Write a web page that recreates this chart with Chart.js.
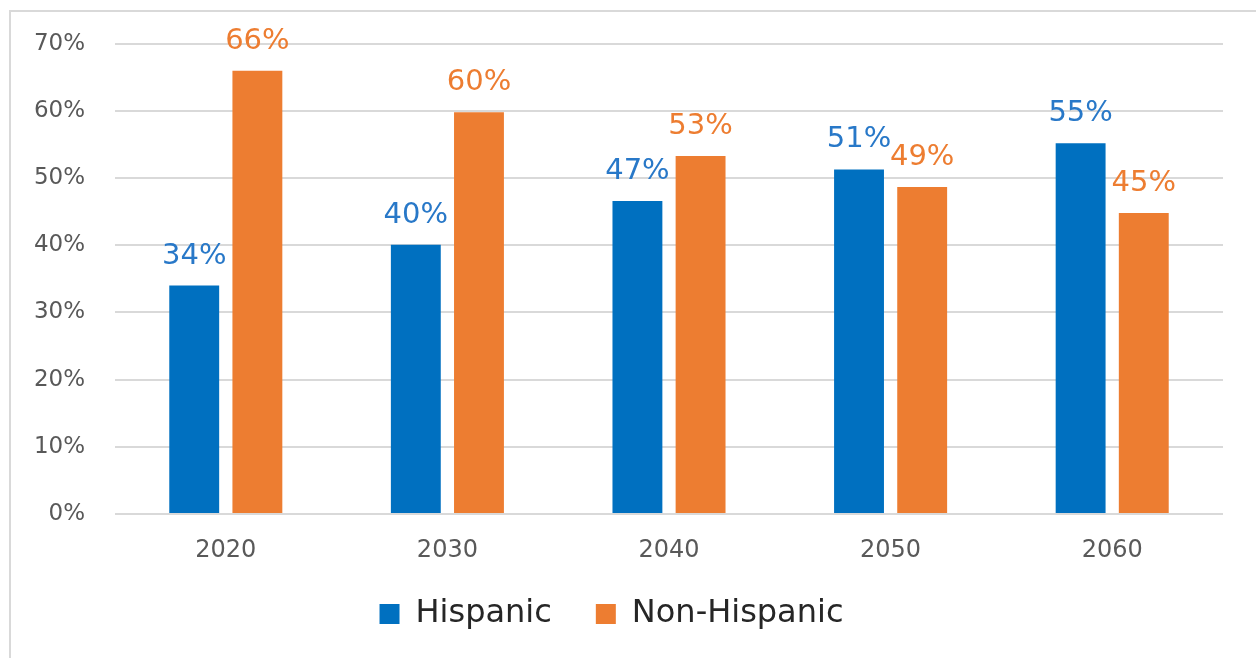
<!DOCTYPE html>
<html>
<head>
<meta charset="utf-8">
<script src="https://cdn.jsdelivr.net/npm/chart.js@4/dist/chart.umd.min.js"></script>
<style>
  html, body { margin: 0; padding: 0; background: #fff; overflow: hidden; }
  #wrap { position: absolute; left: 0; top: 0; width: 1256px; height: 658px; overflow: hidden; }
  #frame { position: absolute; left: 9px; top: 10px; width: 1300px; height: 700px;
           border-top: 2px solid #d9d9d9; border-left: 2px solid #d9d9d9; }
  #chart { position: absolute; left: 0; top: 0; }
</style>
</head>
<body>
<div id="wrap">
  <div id="frame"></div>
  <canvas id="chart" width="1277" height="700"></canvas>
</div>
<script>
// share of population by decade
const years = ['2020', '2030', '2040', '2050', '2060'];
const hispanic = [34.0, 40.1, 46.6, 51.3, 55.2];
const nonHispanic = [66.0, 59.8, 53.3, 48.7, 44.8];
const yTicks = [0, 10, 20, 30, 40, 50, 60, 70];

const BLUE = '#0070C0';
const ORANGE = '#ED7D31';
const FONT = "'DejaVu Sans', sans-serif";

// value labels above each bar
const barLabels = {
  id: 'barLabels',
  afterDatasetsDraw(chart) {
    const ctx = chart.ctx;
    ctx.save();
    ctx.font = `29px ${FONT}`;
    ctx.textAlign = 'center';
    ctx.textBaseline = 'alphabetic';
    chart.data.datasets.forEach((ds, i) => {
      const meta = chart.getDatasetMeta(i);
      ctx.fillStyle = ds.labelColor;
      meta.data.forEach((bar, j) => {
        ctx.fillText(Math.round(ds.data[j]) + '%', bar.x, bar.y - 22);
      });
    });
    ctx.restore();
  }
};

new Chart(document.getElementById('chart'), {
  type: 'bar',
  data: {
    labels: years,
    datasets: [
      { label: 'Hispanic', data: hispanic, backgroundColor: BLUE, labelColor: '#2878C8',
        categoryPercentage: 0.57, barPercentage: 0.79 },
      { label: 'Non-Hispanic', data: nonHispanic, backgroundColor: ORANGE, labelColor: ORANGE,
        categoryPercentage: 0.57, barPercentage: 0.79 }
    ]
  },
  options: {
    responsive: false,
    animation: false,
    layout: { padding: { left: 0, right: 54, top: 43, bottom: 60 } },
    plugins: {
      tooltip: { enabled: false },
      legend: {
        position: 'bottom',
        labels: {
          boxWidth: 20, boxHeight: 20, padding: 44,
          color: '#262626',
          font: { family: FONT, size: 32 }
        }
      }
    },
    scales: {
      x: {
        grid: { display: false },
        border: { display: false },
        ticks: { color: '#595959', font: { family: FONT, size: 24 }, padding: 14 },
        afterFit(scale) {
          scale.height = 40;
          // labels hang a bit below the short axis box, don't clip them
          scale._computeLabelArea = () => undefined;
        }
      },
      y: {
        min: 0, max: 70,
        afterBuildTicks(scale) { scale.ticks = yTicks.map(v => ({ value: v })); },
        grid: { color: '#d9d9d9', lineWidth: 2, drawTicks: false },
        border: { display: false },
        ticks: {
          color: '#595959', font: { family: FONT, size: 23 }, padding: 30,
          callback: v => v + '%'
        },
        afterFit(scale) { scale.width = 115; }
      }
    }
  },
  plugins: [barLabels]
});
</script>
</body>
</html>
